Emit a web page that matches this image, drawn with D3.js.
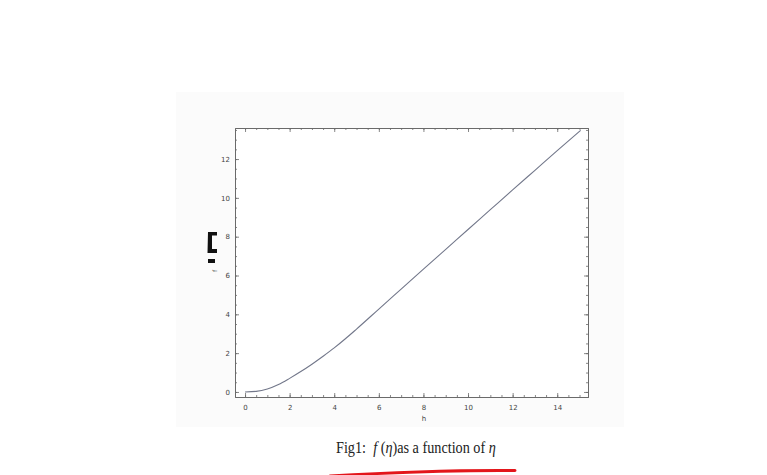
<!DOCTYPE html>
<html>
<head>
<meta charset="utf-8">
<script src="https://cdn.jsdelivr.net/npm/d3@7"></script>
<style>
  html, body { margin: 0; padding: 0; background: #ffffff; }
  svg { display: block; }
</style>
</head>
<body>
<svg id="chart" width="767" height="475"></svg>
<script>
// ---- data ----
const eta = [0, 0.5, 1, 1.5, 2, 2.5, 3, 3.5, 4, 4.5, 5, 6, 7, 8, 9, 10, 11, 12, 13, 14, 15.05];
const fVals = [0, 0.03, 0.15, 0.38, 0.7, 1.05, 1.43, 1.84, 2.27, 2.74, 3.24, 4.27, 5.3, 6.33, 7.35, 8.37, 9.39, 10.41, 11.42, 12.43, 13.48];
const xTickLabels = [0, 2, 4, 6, 8, 10, 12, 14];
const yTickLabels = [0, 2, 4, 6, 8, 10, 12];
const xMinorTicks = d3.range(0, 15.01, 0.5);
const yMinorTicks = d3.range(0, 13.51, 0.5);
const xAxisLabel = "h";
const yAxisLabel = "f";
const caption = ["Fig1:  ", "f", " (", "η", ")as a function of ", "η"];

const svg = d3.select("#chart");

// very faint scanned-page tint
svg.append("rect").attr("x", 176).attr("y", 92).attr("width", 448).attr("height", 335)
  .attr("fill", "#fbfbfb");

const plot = { left: 235, right: 588, top: 128, bottom: 397 };
const x = d3.scaleLinear().domain([-0.45, 15.38]).range([plot.left, plot.right]);
const y = d3.scaleLinear().domain([-0.26, 13.6]).range([plot.bottom, plot.top]);

svg.append("rect").attr("x", plot.left).attr("y", plot.top)
  .attr("width", plot.right - plot.left).attr("height", plot.bottom - plot.top)
  .attr("fill", "#ffffff");

const frameColor = "#6a6a6a";
const labelColor = "#444";

function styleAxis(g) {
  g.select(".domain").attr("stroke", frameColor).attr("stroke-width", 1);
  g.selectAll(".tick line").attr("stroke", frameColor).attr("stroke-width", 0.8);
  g.selectAll(".tick text").attr("fill", labelColor)
    .attr("font-family", "DejaVu Sans, sans-serif").attr("font-size", 7);
}

// bottom
svg.append("g").attr("transform", `translate(0,${plot.bottom})`)
  .call(d3.axisBottom(x).tickValues(xMinorTicks).tickFormat("").tickSizeInner(-2).tickSizeOuter(0))
  .call(styleAxis);
svg.append("g").attr("transform", `translate(0,${plot.bottom})`)
  .call(d3.axisBottom(x).tickValues(xTickLabels).tickFormat(d3.format("d")).tickSizeInner(-4).tickSizeOuter(0).tickPadding(8))
  .call(styleAxis);
// top
svg.append("g").attr("transform", `translate(0,${plot.top})`)
  .call(d3.axisTop(x).tickValues(xMinorTicks).tickFormat("").tickSizeInner(-2).tickSizeOuter(0))
  .call(styleAxis);
svg.append("g").attr("transform", `translate(0,${plot.top})`)
  .call(d3.axisTop(x).tickValues(xTickLabels).tickFormat("").tickSizeInner(-4).tickSizeOuter(0))
  .call(styleAxis);
// left
svg.append("g").attr("transform", `translate(${plot.left},0)`)
  .call(d3.axisLeft(y).tickValues(yMinorTicks).tickFormat("").tickSizeInner(-2).tickSizeOuter(0))
  .call(styleAxis);
svg.append("g").attr("transform", `translate(${plot.left},0)`)
  .call(d3.axisLeft(y).tickValues(yTickLabels).tickFormat(d3.format("d")).tickSizeInner(-4).tickSizeOuter(0).tickPadding(5))
  .call(styleAxis);
// right
svg.append("g").attr("transform", `translate(${plot.right},0)`)
  .call(d3.axisRight(y).tickValues(yMinorTicks).tickFormat("").tickSizeInner(-2).tickSizeOuter(0))
  .call(styleAxis);
svg.append("g").attr("transform", `translate(${plot.right},0)`)
  .call(d3.axisRight(y).tickValues(yTickLabels).tickFormat("").tickSizeInner(-4).tickSizeOuter(0))
  .call(styleAxis);

// curve
const line = d3.line().x((d, i) => x(eta[i])).y(d => y(d)).curve(d3.curveMonotoneX);
svg.append("path").datum(fVals).attr("d", line)
  .attr("fill", "none").attr("stroke", "#72778a").attr("stroke-width", 1.1);

// x axis label
svg.append("text").attr("x", 424).attr("y", 421).attr("text-anchor", "middle")
  .attr("font-family", "DejaVu Sans, sans-serif").attr("font-size", 7).attr("fill", "#444")
  .text(xAxisLabel);

// y axis label (rotated f + scanned block glyph)
svg.append("text").attr("transform", "translate(217,271) rotate(-90)").attr("text-anchor", "middle")
  .attr("font-family", "DejaVu Sans, sans-serif").attr("font-size", 6).attr("fill", "#444")
  .text(yAxisLabel);
svg.append("path")
  .attr("d", "M208,232 H217 V235.5 H212 V249 H217 V253 H207.5 Z")
  .attr("fill", "#111");
svg.append("rect").attr("x", 208).attr("y", 259).attr("width", 7).attr("height", 4).attr("fill", "#111");

// caption (horizontally condensed like the scan)
const capG = svg.append("g");
const cap = capG.append("text").attr("x", 0).attr("y", 0)
  .attr("font-family", "Liberation Serif, Times New Roman, serif").attr("font-size", 16.5)
  .attr("fill", "#222").attr("xml:space", "preserve").style("white-space", "pre");
caption.forEach(s => {
  const t = cap.append("tspan").text(s);
  if (s === "f" || s === "η") t.attr("font-style", "italic");
});
const natural = cap.node().getComputedTextLength();
const sx = 160 / natural;
capG.attr("transform", `translate(336,453) scale(${sx},1)`);

// red hand-drawn underline
svg.append("path")
  .attr("d", "M330,476 C380,473 450,470 515,470.5")
  .attr("fill", "none").attr("stroke", "#e3161b").attr("stroke-width", 3).attr("stroke-linecap", "round");
</script>
</body>
</html>
